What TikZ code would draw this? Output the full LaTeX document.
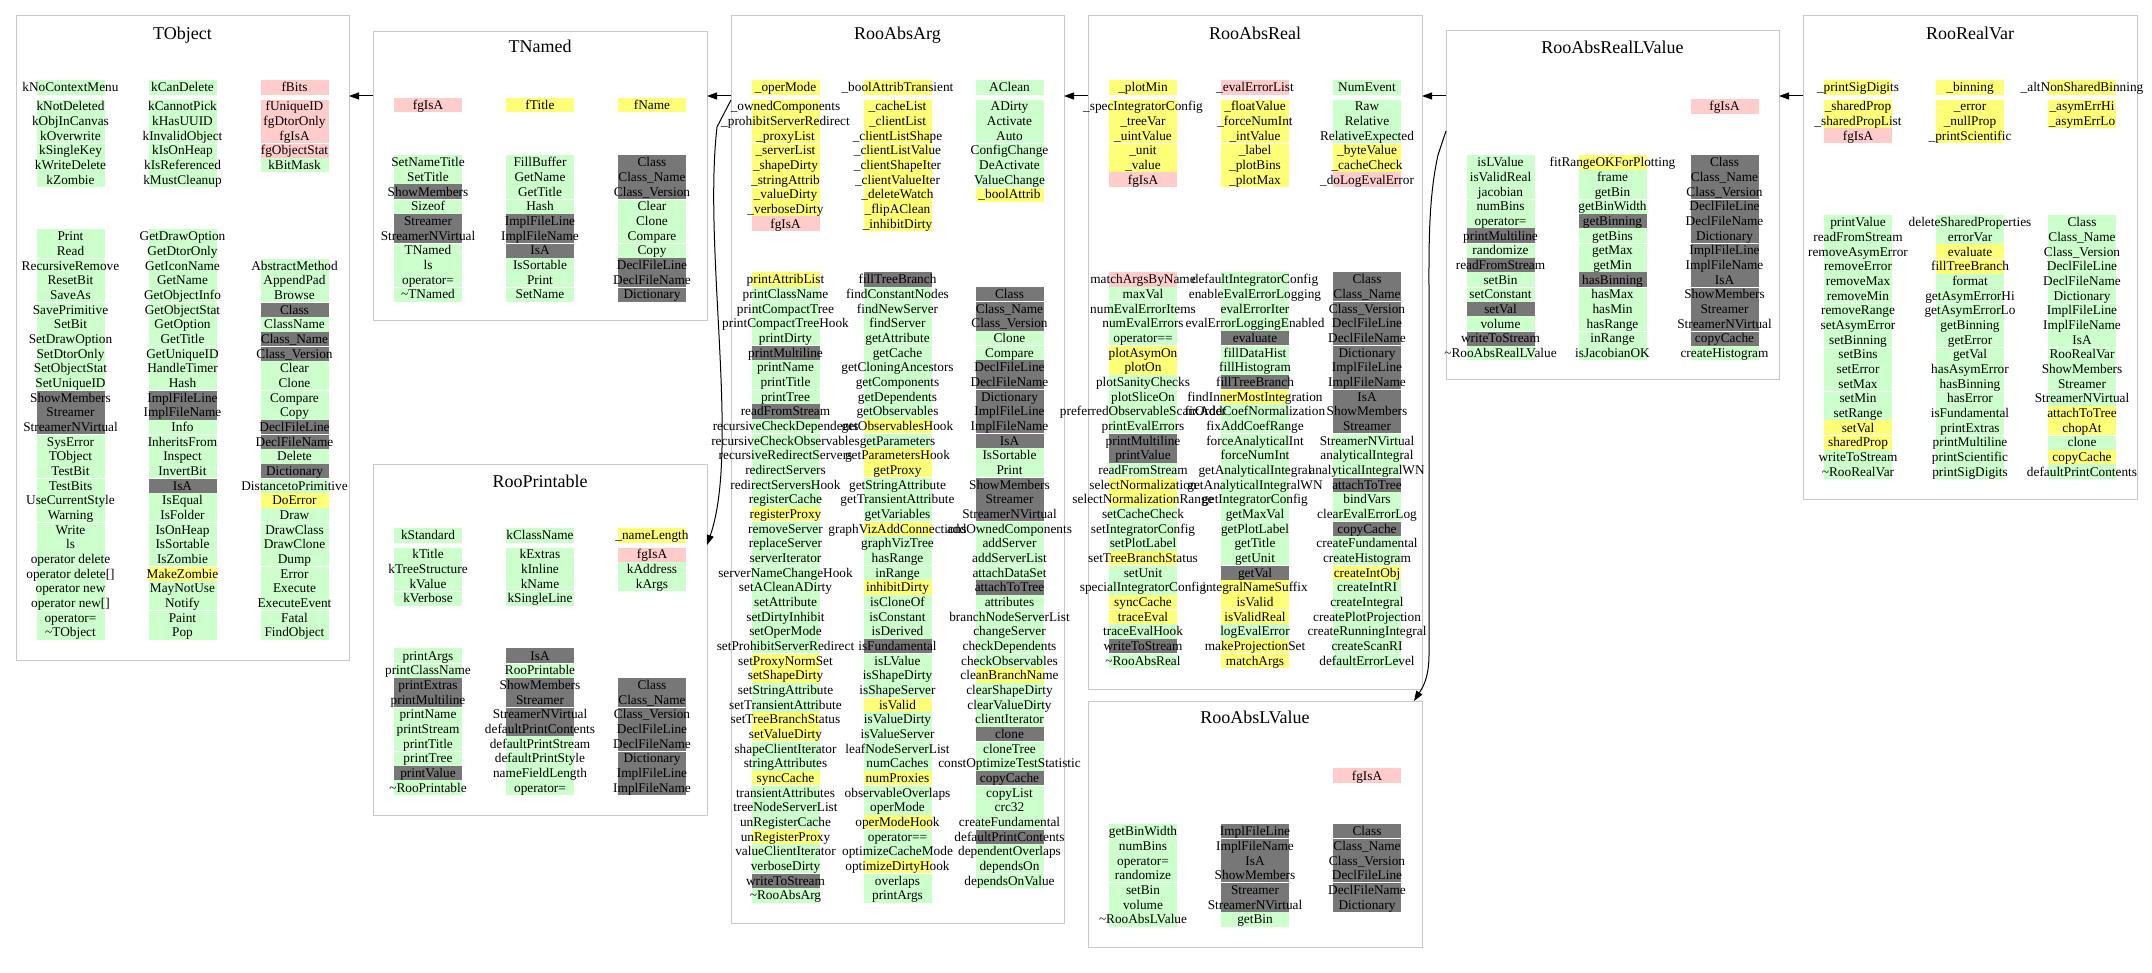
\documentclass[tikz,border=0pt]{standalone}
\usepackage{fontspec}
\setmainfont{Liberation Serif}
\usetikzlibrary{arrows.meta}
\definecolor{cg}{HTML}{CCFFCC}
\definecolor{cy}{HTML}{FFFF77}
\definecolor{cr}{HTML}{FFCCCC}
\definecolor{cd}{HTML}{777777}
\definecolor{boxgray}{HTML}{C8C8C8}
\def\P{14.667}
\newif\iffillpass
\tikzset{
  mem/.style={inner sep=0pt, anchor=base, font=\fontsize{13.3}{15}\selectfont},
  ttl/.style={inner sep=0pt, anchor=base, font=\fontsize{18}{20}\selectfont},
  boxst/.style={draw=boxgray, line width=1pt, inner sep=0pt, outer sep=0pt},
  inh/.style={draw=black, line width=1pt, -{Triangle[length=10pt,width=7pt]}}
}
% #1 name, #2 x centre, #3 Y top of row 0, #4 header gap, #5 separator phase, #6 first row, #7 list
\newcommand\mcol[7]{%
  \foreach \c/\t [count=\k from #6] in {#7}{%
    \pgfmathsetmacro\yt{#3+\k*\P+ifthenelse(\k>0,#4,0)}%
    \iffillpass
      \pgfmathtruncatemacro\sep{and(\k>0, mod(\k,3)==#5)}%
      \fill[c\c] ({#2-34},\yt) rectangle ({#2+34},\yt+\P);
      \ifnum\sep=1 \draw[white,line width=0.9pt] ({#2-34},\yt) -- ({#2+34},\yt);\fi
    \else
      \node[mem] (#1-\k) at (#2,\yt+\P/2+4.6) {\t};
    \fi
  }}
% #1 name, #2 x1, #3 y1, #4 x2, #5 y2, #6 title, #7 title centre y
\newcommand\cbox[7]{%
  \node[boxst, minimum width={(#4-#2)*1pt}, minimum height={(#5-#3)*1pt}] (#1) at ({(#2+#4)/2},{(#3+#5)/2}) {};
  \node[ttl] (#1-title) at ({(#2+#4)/2},#7+6.2) {#6};
}
\newcommand\allcols{%
% ---------------- TObject
\mcol{TOa1}{70.5}{80}{4.333}{1}{0}{g/kNoContextMenu, g/kNotDeleted, g/kObjInCanvas, g/kOverwrite, g/kSingleKey, g/kWriteDelete, g/kZombie}
\mcol{TOa2}{182.5}{80}{4.333}{1}{0}{g/kCanDelete, g/kCannotPick, g/kHasUUID, g/kInvalidObject, g/kIsOnHeap, g/kIsReferenced, g/kMustCleanup}
\mcol{TOa3}{294.5}{80}{4.333}{1}{0}{r/fBits, r/fUniqueID, r/fgDtorOnly, r/fgIsA, r/fgObjectStat, g/kBitMask}
\mcol{TOm1}{70.5}{229}{0}{2}{0}{g/Print, g/Read, g/RecursiveRemove, g/ResetBit, g/SaveAs, g/SavePrimitive, g/SetBit, g/SetDrawOption, g/SetDtorOnly, g/SetObjectStat, g/SetUniqueID, d/ShowMembers, d/Streamer, d/StreamerNVirtual, g/SysError, g/TObject, g/TestBit, g/TestBits, g/UseCurrentStyle, g/Warning, g/Write, g/ls, g/operator delete, g/operator delete[], g/operator new, g/operator new[], g/operator=, g/\textasciitilde TObject}
\mcol{TOm2}{182.5}{229}{0}{2}{0}{g/GetDrawOption, g/GetDtorOnly, g/GetIconName, g/GetName, g/GetObjectInfo, g/GetObjectStat, g/GetOption, g/GetTitle, g/GetUniqueID, g/HandleTimer, g/Hash, d/ImplFileLine, d/ImplFileName, g/Info, g/InheritsFrom, g/Inspect, g/InvertBit, d/IsA, g/IsEqual, g/IsFolder, g/IsOnHeap, g/IsSortable, g/IsZombie, y/MakeZombie, g/MayNotUse, g/Notify, g/Paint, g/Pop}
\mcol{TOm3}{294.5}{229}{0}{2}{2}{g/AbstractMethod, g/AppendPad, g/Browse, d/Class, g/ClassName, d/Class\_Name, d/Class\_Version, g/Clear, g/Clone, g/Compare, g/Copy, d/DeclFileLine, d/DeclFileName, g/Delete, d/Dictionary, g/DistancetoPrimitive, y/DoError, g/Draw, g/DrawClass, g/DrawClone, g/Dump, g/Error, g/Execute, g/ExecuteEvent, g/Fatal, g/FindObject}
% ---------------- TNamed
\mcol{TNa1}{428}{97.7}{4.333}{1}{0}{r/fgIsA}
\mcol{TNa2}{540}{97.7}{4.333}{1}{0}{y/fTitle}
\mcol{TNa3}{652}{97.7}{4.333}{1}{0}{y/fName}
\mcol{TNm1}{428}{155}{0}{0}{0}{g/SetNameTitle, g/SetTitle, d/ShowMembers, g/Sizeof, d/Streamer, d/StreamerNVirtual, g/TNamed, g/ls, g/operator=, g/\textasciitilde TNamed}
\mcol{TNm2}{540}{155}{0}{0}{0}{g/FillBuffer, g/GetName, g/GetTitle, g/Hash, d/ImplFileLine, d/ImplFileName, d/IsA, g/IsSortable, g/Print, g/SetName}
\mcol{TNm3}{652}{155}{0}{0}{0}{d/Class, d/Class\_Name, d/Class\_Version, g/Clear, g/Clone, g/Compare, g/Copy, d/DeclFileLine, d/DeclFileName, d/Dictionary}
% ---------------- RooPrintable
\mcol{RPa1}{428}{528}{4.333}{1}{0}{g/kStandard, g/kTitle, g/kTreeStructure, g/kValue, g/kVerbose}
\mcol{RPa2}{540}{528}{4.333}{1}{0}{g/kClassName, g/kExtras, g/kInline, g/kName, g/kSingleLine}
\mcol{RPa3}{652}{528}{4.333}{1}{0}{y/\_nameLength, r/fgIsA, g/kAddress, g/kArgs}
\mcol{RPm1}{428}{648.3}{0}{1}{0}{g/printArgs, g/printClassName, d/printExtras, d/printMultiline, g/printName, g/printStream, g/printTitle, g/printTree, d/printValue, g/\textasciitilde RooPrintable}
\mcol{RPm2}{540}{648.3}{0}{1}{0}{d/IsA, g/RooPrintable, d/ShowMembers, d/Streamer, d/StreamerNVirtual, d/defaultPrintContents, g/defaultPrintStream, g/defaultPrintStyle, g/nameFieldLength, g/operator=}
\mcol{RPm3}{652}{648.3}{0}{1}{2}{d/Class, d/Class\_Name, d/Class\_Version, d/DeclFileLine, d/DeclFileName, d/Dictionary, d/ImplFileLine, d/ImplFileName}
% ---------------- RooAbsArg
\mcol{RAa1}{785.5}{80}{4.333}{1}{0}{y/\_operMode, y/\_ownedComponents, y/\_prohibitServerRedirect, y/\_proxyList, y/\_serverList, y/\_shapeDirty, y/\_stringAttrib, y/\_valueDirty, y/\_verboseDirty, r/fgIsA}
\mcol{RAa2}{897.5}{80}{4.333}{1}{0}{y/\_boolAttribTransient, y/\_cacheList, y/\_clientList, y/\_clientListShape, y/\_clientListValue, y/\_clientShapeIter, y/\_clientValueIter, y/\_deleteWatch, y/\_flipAClean, y/\_inhibitDirty}
\mcol{RAa3}{1009.5}{80}{4.333}{1}{0}{g/AClean, g/ADirty, g/Activate, g/Auto, g/ConfigChange, g/DeActivate, g/ValueChange, y/\_boolAttrib}
\mcol{RAm1}{785.5}{272}{0}{2}{0}{y/printAttribList, g/printClassName, g/printCompactTree, g/printCompactTreeHook, g/printDirty, d/printMultiline, g/printName, g/printTitle, g/printTree, d/readFromStream, g/recursiveCheckDependents, g/recursiveCheckObservables, g/recursiveRedirectServers, g/redirectServers, g/redirectServersHook, g/registerCache, y/registerProxy, g/removeServer, g/replaceServer, g/serverIterator, g/serverNameChangeHook, g/setACleanADirty, g/setAttribute, g/setDirtyInhibit, g/setOperMode, g/setProhibitServerRedirect, y/setProxyNormSet, y/setShapeDirty, g/setStringAttribute, g/setTransientAttribute, y/setTreeBranchStatus, y/setValueDirty, g/shapeClientIterator, g/stringAttributes, y/syncCache, g/transientAttributes, g/treeNodeServerList, g/unRegisterCache, y/unRegisterProxy, g/valueClientIterator, g/verboseDirty, d/writeToStream, g/\textasciitilde RooAbsArg}
\mcol{RAm2}{897.5}{272}{0}{2}{0}{d/fillTreeBranch, g/findConstantNodes, g/findNewServer, g/findServer, g/getAttribute, g/getCache, g/getCloningAncestors, g/getComponents, g/getDependents, g/getObservables, y/getObservablesHook, g/getParameters, y/getParametersHook, y/getProxy, g/getStringAttribute, g/getTransientAttribute, g/getVariables, y/graphVizAddConnections, g/graphVizTree, g/hasRange, g/inRange, y/inhibitDirty, g/isCloneOf, g/isConstant, g/isDerived, d/isFundamental, g/isLValue, g/isShapeDirty, g/isShapeServer, y/isValid, g/isValueDirty, g/isValueServer, g/leafNodeServerList, g/numCaches, y/numProxies, g/observableOverlaps, g/operMode, y/operModeHook, g/operator==, g/optimizeCacheMode, y/optimizeDirtyHook, g/overlaps, g/printArgs}
\mcol{RAm3}{1009.5}{272}{0}{2}{1}{d/Class, d/Class\_Name, d/Class\_Version, g/Clone, g/Compare, d/DeclFileLine, d/DeclFileName, d/Dictionary, d/ImplFileLine, d/ImplFileName, d/IsA, g/IsSortable, g/Print, d/ShowMembers, d/Streamer, d/StreamerNVirtual, g/addOwnedComponents, g/addServer, g/addServerList, g/attachDataSet, d/attachToTree, g/attributes, g/branchNodeServerList, g/changeServer, g/checkDependents, g/checkObservables, y/cleanBranchName, g/clearShapeDirty, g/clearValueDirty, g/clientIterator, d/clone, g/cloneTree, g/constOptimizeTestStatistic, d/copyCache, g/copyList, g/crc32, g/createFundamental, d/defaultPrintContents, g/dependentOverlaps, g/dependsOn, g/dependsOnValue}
% ---------------- RooAbsReal
\mcol{ARa1}{1143}{80}{4.333}{1}{0}{y/\_plotMin, y/\_specIntegratorConfig, y/\_treeVar, y/\_uintValue, y/\_unit, y/\_value, r/fgIsA}
\mcol{ARa2}{1255}{80}{4.333}{1}{0}{r/\_evalErrorList, y/\_floatValue, y/\_forceNumInt, y/\_intValue, y/\_label, y/\_plotBins, y/\_plotMax}
\mcol{ARa3}{1367}{80}{4.333}{1}{0}{g/NumEvent, g/Raw, g/Relative, g/RelativeExpected, y/\_byteValue, y/\_cacheCheck, r/\_doLogEvalError}
\mcol{ARm1}{1143}{272}{0}{2}{0}{r/matchArgsByName, g/maxVal, g/numEvalErrorItems, g/numEvalErrors, g/operator==, y/plotAsymOn, y/plotOn, g/plotSanityChecks, g/plotSliceOn, g/preferredObservableScanOrder, g/printEvalErrors, d/printMultiline, d/printValue, g/readFromStream, y/selectNormalization, y/selectNormalizationRange, g/setCacheCheck, g/setIntegratorConfig, g/setPlotLabel, y/setTreeBranchStatus, g/setUnit, g/specialIntegratorConfig, y/syncCache, y/traceEval, g/traceEvalHook, d/writeToStream, g/\textasciitilde RooAbsReal}
\mcol{ARm2}{1255}{272}{0}{2}{0}{g/defaultIntegratorConfig, g/enableEvalErrorLogging, g/evalErrorIter, g/evalErrorLoggingEnabled, d/evaluate, g/fillDataHist, g/fillHistogram, d/fillTreeBranch, y/findInnerMostIntegration, g/fixAddCoefNormalization, g/fixAddCoefRange, g/forceAnalyticalInt, g/forceNumInt, g/getAnalyticalIntegral, g/getAnalyticalIntegralWN, g/getIntegratorConfig, g/getMaxVal, g/getPlotLabel, g/getTitle, g/getUnit, d/getVal, y/integralNameSuffix, y/isValid, y/isValidReal, g/logEvalError, y/makeProjectionSet, y/matchArgs}
\mcol{ARm3}{1367}{272}{0}{2}{0}{d/Class, d/Class\_Name, d/Class\_Version, d/DeclFileLine, d/DeclFileName, d/Dictionary, d/ImplFileLine, d/ImplFileName, d/IsA, d/ShowMembers, d/Streamer, g/StreamerNVirtual, g/analyticalIntegral, g/analyticalIntegralWN, d/attachToTree, g/bindVars, g/clearEvalErrorLog, d/copyCache, g/createFundamental, g/createHistogram, y/createIntObj, g/createIntRI, g/createIntegral, g/createPlotProjection, g/createRunningIntegral, g/createScanRI, g/defaultErrorLevel}
% ---------------- RooAbsLValue
\mcol{ALa3}{1367}{768.3}{4.333}{1}{0}{r/fgIsA}
\mcol{ALm1}{1143}{824}{0}{1}{0}{g/getBinWidth, g/numBins, g/operator=, g/randomize, g/setBin, g/volume, g/\textasciitilde RooAbsLValue}
\mcol{ALm2}{1255}{824}{0}{1}{0}{d/ImplFileLine, d/ImplFileName, d/IsA, d/ShowMembers, d/Streamer, d/StreamerNVirtual, g/getBin}
\mcol{ALm3}{1367}{824}{0}{1}{0}{d/Class, d/Class\_Name, d/Class\_Version, d/DeclFileLine, d/DeclFileName, d/Dictionary}
% ---------------- RooAbsRealLValue
\mcol{RLa3}{1724.5}{99}{4.333}{1}{0}{r/fgIsA}
\mcol{RLm1}{1500.5}{155}{0}{0}{0}{g/isLValue, g/isValidReal, g/jacobian, g/numBins, g/operator=, d/printMultiline, g/randomize, d/readFromStream, g/setBin, g/setConstant, d/setVal, g/volume, d/writeToStream, g/\textasciitilde RooAbsRealLValue}
\mcol{RLm2}{1612.5}{155}{0}{0}{0}{y/fitRangeOKForPlotting, g/frame, g/getBin, g/getBinWidth, d/getBinning, g/getBins, g/getMax, g/getMin, d/hasBinning, g/hasMax, g/hasMin, g/hasRange, g/inRange, g/isJacobianOK}
\mcol{RLm3}{1724.5}{155}{0}{0}{0}{d/Class, d/Class\_Name, d/Class\_Version, d/DeclFileLine, d/DeclFileName, d/Dictionary, d/ImplFileLine, d/ImplFileName, d/IsA, d/ShowMembers, d/Streamer, d/StreamerNVirtual, d/copyCache, g/createHistogram}
% ---------------- RooRealVar
\mcol{RVa1}{1858}{80}{4.333}{1}{0}{y/\_printSigDigits, y/\_sharedProp, y/\_sharedPropList, r/fgIsA}
\mcol{RVa2}{1970}{80}{4.333}{1}{0}{y/\_binning, y/\_error, y/\_nullProp, y/\_printScientific}
\mcol{RVa3}{2082}{80}{4.333}{1}{0}{y/\_altNonSharedBinning, y/\_asymErrHi, y/\_asymErrLo}
\mcol{RVm1}{1858}{215}{0}{0}{0}{g/printValue, g/readFromStream, g/removeAsymError, g/removeError, g/removeMax, g/removeMin, g/removeRange, g/setAsymError, g/setBinning, g/setBins, g/setError, g/setMax, g/setMin, g/setRange, y/setVal, y/sharedProp, g/writeToStream, g/\textasciitilde RooRealVar}
\mcol{RVm2}{1970}{215}{0}{0}{0}{g/deleteSharedProperties, g/errorVar, y/evaluate, y/fillTreeBranch, g/format, g/getAsymErrorHi, g/getAsymErrorLo, g/getBinning, g/getError, g/getVal, g/hasAsymError, g/hasBinning, g/hasError, g/isFundamental, g/printExtras, g/printMultiline, g/printScientific, g/printSigDigits}
\mcol{RVm3}{2082}{215}{0}{0}{0}{g/Class, g/Class\_Name, g/Class\_Version, g/DeclFileLine, g/DeclFileName, g/Dictionary, g/ImplFileLine, g/ImplFileName, g/IsA, g/RooRealVar, g/ShowMembers, g/Streamer, g/StreamerNVirtual, y/attachToTree, y/chopAt, g/clone, y/copyCache, g/defaultPrintContents}
}
\begin{document}
\begin{tikzpicture}[x=1pt,y=-1pt]
\useasboundingbox (0,0) rectangle (2152,973);
\fill[white] (0,0) rectangle (2152,973);

\cbox{TObject}{16}{16}{349}{660}{TObject}{33.3}
\cbox{TNamed}{373}{32}{707}{321}{TNamed}{46.7}
\cbox{RooPrintable}{373}{464}{707}{815}{RooPrintable}{481}
\cbox{RooAbsArg}{731}{16}{1064}{923}{RooAbsArg}{33.3}
\cbox{RooAbsReal}{1088}{16}{1422}{689}{RooAbsReal}{33.3}
\cbox{RooAbsLValue}{1088}{701}{1422}{947}{RooAbsLValue}{717.7}
\cbox{RooAbsRealLValue}{1446}{31}{1779}{380}{RooAbsRealLValue}{47.7}
\cbox{RooRealVar}{1803}{16}{2137}{499}{RooRealVar}{33.3}

\fillpasstrue\allcols
\fillpassfalse\allcols

% ---------------- inheritance connectors
\coordinate (h96) at (0,96);
\coordinate (h100) at (0,100);
\coordinate (h131) at (0,131);
\coordinate (h545) at (0,545);
\coordinate (v1414) at (1414,0);
\draw[inh] (TNamed.west |- h96) -- (TObject.east |- h96);
\draw[inh] (RooAbsArg.west |- h96) -- (TNamed.east |- h96);
\draw[inh] (RooAbsArg.west |- h100) -- (717,127) .. controls (703,250) and (740,450) .. (RooPrintable.east |- h545);
\draw[inh] (RooAbsReal.west |- h96) -- (RooAbsArg.east |- h96);
\draw[inh] (RooAbsRealLValue.west |- h96) -- (RooAbsReal.east |- h96);
\draw[inh] (RooAbsRealLValue.west |- h131) -- (1438,155) .. controls (1428,200) and (1429,250) .. (1429,300) -- (1429,655) .. controls (1429,680) and (1421,690) .. (RooAbsLValue.north -| v1414);
\draw[inh] (RooRealVar.west |- h96) -- (RooAbsRealLValue.east |- h96);
\end{tikzpicture}
\end{document}
